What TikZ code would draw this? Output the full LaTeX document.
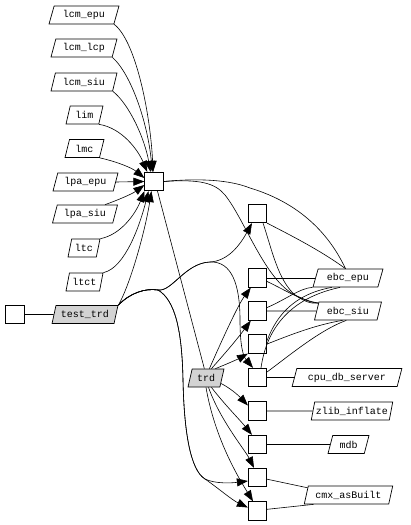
\documentclass[tikz,border=0pt]{standalone}
\usepackage{fontspec}
\newfontfamily\gvmono{Liberation Mono}
\usetikzlibrary{shapes.geometric,arrows.meta}
\definecolor{gvgray}{HTML}{D3D3D3}
\begin{document}
\begin{tikzpicture}[x=1pt,y=-1pt,
  para/.style={trapezium, trapezium left angle=68, trapezium right angle=112,
    trapezium stretches=true, draw, line width=0.7pt,
    font=\gvmono\fontsize{10}{12}\selectfont, inner xsep=1pt, inner ysep=0pt,
    minimum height=18pt},
  sq/.style={rectangle, draw, line width=0.7pt, minimum width=18.5pt, minimum height=18.5pt, inner sep=0pt},
  ln/.style={line width=0.6pt},
  arr/.style={line width=0.6pt, -{Triangle[length=11pt,width=8pt]}}]
\useasboundingbox (0,0) rectangle (410,525);

% left column
\node[para, minimum width=70pt] (lcmepu) at (84,15) {lcm\_epu};
\node[para, minimum width=66pt] (lcmlcp) at (84,48) {lcm\_lcp};
\node[para, minimum width=66pt] (lcmsiu) at (84,82) {lcm\_siu};
\node[para, minimum width=37pt] (lim) at (84.5,115) {lim};
\node[para, minimum width=39pt] (lmc) at (84.5,148.5) {lmc};
\node[para, minimum width=65pt] (lpaepu) at (85.5,182) {lpa\_epu};
\node[para, minimum width=65pt] (lpasiu) at (85,214) {lpa\_siu};
\node[para, minimum width=32pt] (ltc) at (84,248) {ltc};
\node[para, minimum width=37pt] (ltct) at (84.5,282) {ltct};
\node[para, minimum width=66pt, fill=gvgray] (testtrd) at (85,314.5) {test\_trd};
\node[sq] (b0) at (15,314.5) {};
\node[sq] (c0) at (154,181.5) {};
\node[para, minimum width=36pt, fill=gvgray] (trd) at (206,378) {trd};

% right boxes
\node[sq] (b1) at (257.5,213.5) {};
\node[sq] (b2) at (257.5,278) {};
\node[sq] (b3) at (257.5,311) {};
\node[sq] (b4) at (257.5,344) {};
\node[sq] (b5) at (257.5,377.5) {};
\node[sq] (b6) at (257.5,411) {};
\node[sq] (b7) at (257.5,444.5) {};
\node[sq] (b8) at (257.5,477.5) {};
\node[sq] (b9) at (257.5,511) {};

% right labels
\node[para, minimum width=70pt] (ebcepu) at (348,278) {ebc\_epu};
\node[para, minimum width=67pt] (ebcsiu) at (348,311) {ebc\_siu};
\node[para, minimum width=110pt] (cpudb) at (347,377.5) {cpu\_db\_server};
\node[para, minimum width=82pt] (zlib) at (352,411) {zlib\_inflate};
\node[para, minimum width=41pt] (mdb) at (348.5,444.5) {mdb};
\node[para, minimum width=89pt] (cmx) at (348.5,495) {cmx\_asBuilt};

% edges into c0
\draw[arr] (lcmepu.bottom right corner) .. controls (135,40) and (150,110) .. (c0.95);
\draw[arr] (lcmlcp.bottom right corner) .. controls (132,75) and (148,125) .. (c0.100);
\draw[arr] (lcmsiu.bottom right corner) .. controls (130,105) and (145,140) .. (c0.110);
\draw[arr] (lim.bottom right corner) .. controls (122,128) and (138,150) .. (c0.125);
\draw[arr] (lmc.bottom right corner) .. controls (118,162) and (132,168) .. (c0.160);
\draw[arr] (lpaepu.east) -- (c0.west);
\draw[arr] (lpasiu.25) .. controls (118,200) and (132,194) .. (c0.200);
\draw[arr] (ltc.top right corner) .. controls (120,235) and (135,215) .. (c0.225);
\draw[arr] (ltct.top right corner) .. controls (125,268) and (140,225) .. (c0.240);
\draw[arr] (testtrd.top right corner) .. controls (130,285) and (145,232) .. (c0.255);

\draw[ln] (b0.east) -- (testtrd.west);
\draw[ln] (c0.290) -- (trd.100);

% test_trd branches
\draw[arr] (testtrd.top right corner) .. controls (130,293) and (145,288) .. (158,290)
  .. controls (172,292) and (185,263) .. (210,262) .. controls (228,261) and (240,245) .. (b1.240);
\draw[arr] (testtrd.top right corner) .. controls (130,293) and (145,288) .. (158,290)
  .. controls (172,292) and (185,263) .. (210,262) .. controls (232,261) and (240,285) .. (240,320)
  .. controls (240,345) and (243,356) .. (b5.115);
\draw[arr] (testtrd.top right corner) .. controls (130,293) and (145,288) .. (158,290)
  .. controls (175,300) and (182,330) .. (183,380) .. controls (184,430) and (190,470) .. (205,479)
  .. controls (215,484) and (232,483) .. (b8.200);
\draw[arr] (testtrd.top right corner) .. controls (130,293) and (145,288) .. (158,290)
  .. controls (175,300) and (182,330) .. (183,380) .. controls (184,430) and (190,470) .. (205,479)
  .. controls (218,488) and (232,500) .. (b9.160);

% trd branches
\draw[arr] (trd.70) .. controls (222,340) and (238,305) .. (b2.235);
\draw[arr] (trd.60) .. controls (228,350) and (238,338) .. (b3.235);
\draw[arr] (trd.45) .. controls (232,362) and (240,358) .. (b4.225);
\draw[arr] (trd.-20) .. controls (230,388) and (238,395) .. (b6.150);
\draw[arr] (trd.-60) .. controls (225,405) and (240,420) .. (b7.120);
\draw[arr] (trd.-75) .. controls (220,420) and (245,450) .. (b8.110);
\draw[arr] (trd.-90) .. controls (215,440) and (240,480) .. (b9.115);

% right-side lines
\draw[ln] (c0.east) .. controls (200,178) and (230,180) .. (250,188)
  .. controls (290,200) and (325,225) .. (ebcepu.105);
\draw[ln] (c0.east) .. controls (200,179) and (215,183) .. (225,195)
  .. controls (245,220) and (265,280) .. (295,295) .. controls (305,300) and (312,303) .. (ebcsiu.165);
\draw[ln] (b1.south east) .. controls (290,235) and (320,250) .. (ebcepu.105);
\draw[ln] (b1.-60) .. controls (272,250) and (278,280) .. (295,295) .. controls (305,302) and (312,304) .. (ebcsiu.165);
\draw[ln] (b2.east) -- (ebcepu.west);
\draw[ln] (b2.-20) .. controls (285,290) and (300,300) .. (ebcsiu.165);
\draw[ln] (b3.east) -- (ebcsiu.west);
\draw[ln] (b3.20) .. controls (285,300) and (300,288) .. (ebcepu.bottom left corner);
\draw[ln] (b4.20) .. controls (275,320) and (290,295) .. (ebcepu.-150);
\draw[ln] (b4.east) .. controls (290,335) and (315,325) .. (ebcsiu.-120);
\draw[ln] (b5.east) -- (cpudb.west);
\draw[ln] (b5.30) .. controls (290,355) and (320,330) .. (ebcsiu.-100);
\draw[ln] (b5.70) .. controls (265,340) and (280,300) .. (ebcepu.-130);
\draw[ln] (b6.east) -- (zlib.west);
\draw[ln] (b7.east) -- (mdb.west);
\draw[ln] (b8.-10) -- (cmx.170);
\draw[ln] (b9.10) -- (cmx.-165);
\end{tikzpicture}
\end{document}
